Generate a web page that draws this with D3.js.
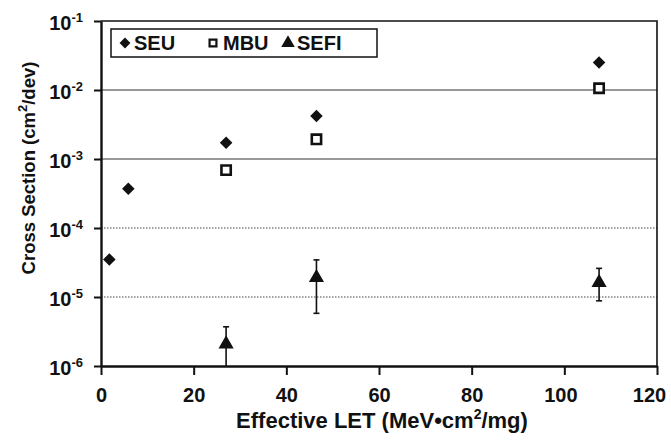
<!DOCTYPE html>
<html>
<head>
<meta charset="utf-8">
<script src="https://cdn.jsdelivr.net/npm/d3@7"></script>
<style>
  body { margin: 0; background: #fff; }
  svg text { font-family: Arial, "Liberation Sans", Helvetica, sans-serif; fill: #111; }
</style>
</head>
<body>
<script>
// effective LET (MeV*cm2/mg) and cross sections (cm2/dev)
var seuLet = [1.8, 5.9, 27, 46.5, 107.5],
    seuXs = [3.5e-5, 3.7e-4, 1.72e-3, 4.2e-3, 2.5e-2];

var mbuLet = [27, 46.5, 107.5],
    mbuXs = [6.9e-4, 1.93e-3, 1.06e-2];

var sefiLet = [27, 46.5, 107.5],
    sefiXs = [2.15e-6, 1.97e-5, 1.67e-5],
    sefiLo = [5e-7, 5.8e-6, 8.8e-6],
    sefiHi = [3.7e-6, 3.45e-5, 2.6e-5];

var xTicks = [0, 20, 40, 60, 80, 100, 120],
    yExps = [-6, -5, -4, -3, -2, -1],
    solidGrid = [-3, -2],
    dottedGrid = [-5, -4];

var legendNames = ["SEU", "MBU", "SEFI"];

var margin = {top: 21, right: 14, bottom: 79, left: 101},
    width = 671 - margin.left - margin.right,
    height = 445 - margin.top - margin.bottom;

var x = d3.scaleLinear().domain([0, 120]).range([0, width]);
var y = d3.scaleLog().domain([1e-6, 1e-1]).range([height, 0]);

var svg = d3.select("body").append("svg")
    .attr("width", 671)
    .attr("height", 445)
  .append("g")
    .attr("transform", "translate(" + margin.left + "," + margin.top + ")");

svg.append("defs").append("clipPath").attr("id", "plot")
  .append("rect").attr("width", width).attr("height", height);

// gridlines
svg.append("g").selectAll("line")
    .data(solidGrid)
  .enter().append("line")
    .attr("x1", 0).attr("x2", width)
    .attr("y1", function(d) { return y(Math.pow(10, d)); })
    .attr("y2", function(d) { return y(Math.pow(10, d)); })
    .attr("stroke", "#333").attr("stroke-width", 1.2);

svg.append("g").selectAll("line")
    .data(dottedGrid)
  .enter().append("line")
    .attr("x1", 0).attr("x2", width)
    .attr("y1", function(d) { return y(Math.pow(10, d)); })
    .attr("y2", function(d) { return y(Math.pow(10, d)); })
    .attr("stroke", "#444").attr("stroke-width", 1).attr("stroke-dasharray", "1.5,1.5");

// top / right frame
svg.append("path")
    .attr("d", "M0,0H" + width + "V" + height)
    .attr("fill", "none").attr("stroke", "#111").attr("stroke-width", 1.6);

// axes
var xAxis = d3.axisBottom(x).tickValues(xTicks).tickSize(9).tickSizeOuter(0).tickPadding(13);
var gx = svg.append("g")
    .attr("transform", "translate(0," + height + ")")
    .call(xAxis);
gx.select(".domain").attr("stroke", "#111").attr("stroke-width", 2.4);
gx.selectAll(".tick line").attr("stroke", "#111").attr("stroke-width", 2);
gx.selectAll(".tick text")
    .attr("font-size", 20).attr("font-weight", "bold").attr("fill", "#111")
    .attr("dx", function(d) { return d === 120 ? -8 : d === 100 ? -4 : 0; });

var yAxis = d3.axisLeft(y)
    .tickValues(yExps.map(function(e) { return Math.pow(10, e); }))
    .tickSize(7).tickSizeOuter(0).tickFormat("");
var gy = svg.append("g").call(yAxis);
gy.select(".domain").attr("stroke", "#111").attr("stroke-width", 2.4);
gy.selectAll(".tick line").attr("stroke", "#111").attr("stroke-width", 2);

var ylab = gy.selectAll(".tick").append("text")
    .attr("x", -18).attr("y", 8)
    .attr("text-anchor", "end")
    .attr("font-size", 20).attr("font-weight", "bold")
    .style("fill", "#111");
ylab.append("tspan").text("10");
ylab.append("tspan")
    .attr("font-size", 13).attr("dy", -8)
    .text(function(d) { return Math.round(Math.log10(d)); });

// axis titles
var xt = svg.append("text")
    .attr("x", width / 2 + 3).attr("y", height + 62)
    .attr("text-anchor", "middle")
    .attr("font-size", 22).attr("font-weight", "bold");
xt.append("tspan").text("Effective LET (MeV\u2022cm");
xt.append("tspan").attr("font-size", 14).attr("dy", -9).text("2");
xt.append("tspan").attr("dy", 9).text("/mg)");

var yt = svg.append("text")
    .attr("transform", "translate(" + (35 - margin.left) + "," + (168 - margin.top) + ") rotate(-90)")
    .attr("text-anchor", "middle")
    .attr("font-size", 18.5).attr("font-weight", "bold");
yt.append("tspan").text("Cross Section (cm");
yt.append("tspan").attr("font-size", 13).attr("dy", -8).text("2");
yt.append("tspan").attr("dy", 8).text("/dev)");

// markers
var diamond = d3.symbol().type(d3.symbolDiamond2).size(100);
var square = d3.symbol().type(d3.symbolSquare2).size(110);
var triangle = d3.symbol().type(d3.symbolTriangle).size(100);

var marks = svg.append("g").attr("clip-path", "url(#plot)");

// SEFI error bars
var err = marks.selectAll(".err")
    .data(sefiLet)
  .enter().append("g").attr("class", "err");
err.append("line")
    .attr("x1", function(d) { return x(d); }).attr("x2", function(d) { return x(d); })
    .attr("y1", function(d, i) { return y(sefiLo[i]); })
    .attr("y2", function(d, i) { return y(sefiHi[i]); })
    .attr("stroke", "#111").attr("stroke-width", 1.6);
err.append("line")
    .attr("x1", function(d) { return x(d) - 3; }).attr("x2", function(d) { return x(d) + 3; })
    .attr("y1", function(d, i) { return y(sefiHi[i]); })
    .attr("y2", function(d, i) { return y(sefiHi[i]); })
    .attr("stroke", "#111").attr("stroke-width", 1.6);
err.append("line")
    .attr("x1", function(d) { return x(d) - 3; }).attr("x2", function(d) { return x(d) + 3; })
    .attr("y1", function(d, i) { return y(sefiLo[i]); })
    .attr("y2", function(d, i) { return y(sefiLo[i]); })
    .attr("stroke", "#111").attr("stroke-width", 1.6);

marks.selectAll(".seu")
    .data(seuLet)
  .enter().append("path")
    .attr("d", diamond)
    .attr("transform", function(d, i) { return "translate(" + x(d) + "," + y(seuXs[i]) + ")"; })
    .attr("fill", "#111");

svg.selectAll(".mbu")
    .data(mbuLet)
  .enter().append("path")
    .attr("d", square)
    .attr("transform", function(d, i) { return "translate(" + x(d) + "," + y(mbuXs[i]) + ")"; })
    .attr("fill", "#fff").attr("stroke", "#111").attr("stroke-width", 2.6);

marks.selectAll(".sefi")
    .data(sefiLet)
  .enter().append("path")
    .attr("d", triangle)
    .attr("transform", function(d, i) { return "translate(" + x(d) + "," + (y(sefiXs[i]) + 1) + ")"; })
    .attr("fill", "#111");

// legend
var lg = svg.append("g").attr("transform", "translate(10,8)");
lg.append("rect")
    .attr("width", 266).attr("height", 28)
    .attr("fill", "#fff").attr("stroke", "#111").attr("stroke-width", 1.5);
var legendX = [14, 102, 177],
    legendSym = [d3.symbol().type(d3.symbolDiamond2).size(75),
                 d3.symbol().type(d3.symbolSquare2).size(60),
                 d3.symbol().type(d3.symbolTriangle).size(80)];
var li = lg.selectAll(".li")
    .data(legendNames)
  .enter().append("g")
    .attr("transform", function(d, i) { return "translate(" + legendX[i] + ",14)"; });
li.append("path")
    .attr("d", function(d, i) { return legendSym[i](); })
    .attr("fill", function(d, i) { return i === 1 ? "#fff" : "#111"; })
    .attr("stroke", function(d, i) { return i === 1 ? "#111" : "none"; })
    .attr("stroke-width", 2.2);
li.append("text")
    .attr("x", function(d, i) { return i === 1 ? 10 : 9; })
    .attr("dy", "0.36em")
    .attr("font-size", 20).attr("font-weight", "bold")
    .text(function(d) { return d; });
</script>
</body>
</html>
